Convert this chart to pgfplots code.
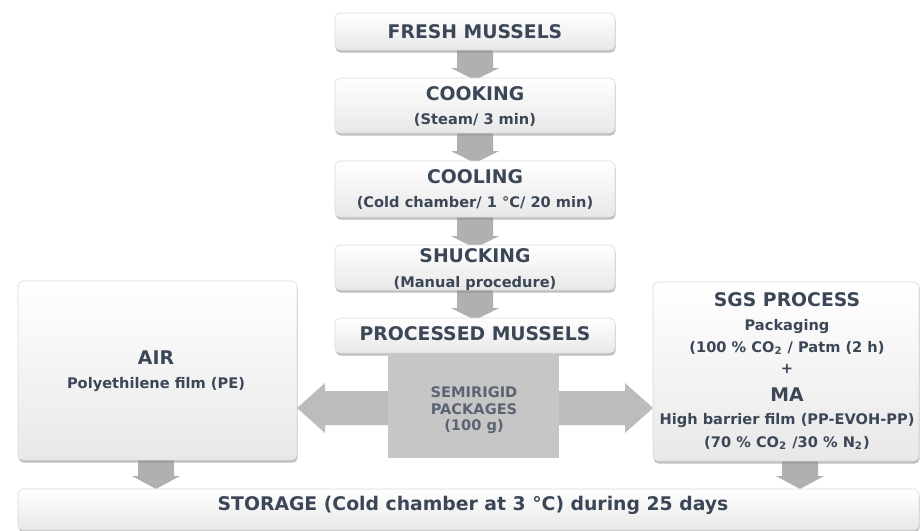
\documentclass[border=0pt]{standalone}
\usepackage{pgfplots}
\pgfplotsset{compat=1.18}
\usepackage{fontspec}
\setmainfont{DejaVu Sans}
\usetikzlibrary{shadows}
\definecolor{txt}{HTML}{3B4656}
\definecolor{arr}{HTML}{B0B0B0}
\definecolor{semi}{HTML}{C6C6C6}
\definecolor{semitxt}{HTML}{5C6474}
\newcommand{\hd}{\fontsize{9.4}{11}\selectfont\bfseries}
\newcommand{\sm}{\fontsize{7.3}{8.5}\selectfont\bfseries}
\begin{document}
\begin{tikzpicture}
\begin{axis}[width=461pt,height=260.5pt,scale only axis,
  xmin=0,xmax=922,ymin=0,ymax=521,y dir=reverse,hide axis,clip=false]
\fill[white] (0,0) rectangle (922,521);
\tikzset{box/.style={rounded corners=2.5pt,top color=white,bottom color=black!9,draw=black!14,line width=0.3pt,
   drop shadow={shadow xshift=0.3pt,shadow yshift=-1.3pt,fill=black!45,opacity=0.55}},
   t/.style={text=txt,inner sep=0pt,anchor=center}}
% down arrows in the central column
\fill[arr] (457,50) -- (493,50) -- (493,68) -- (499,68) -- (475,80) -- (451,68) -- (457,68) -- cycle;
\fill[arr] (457,133) -- (493,133) -- (493,151) -- (499,151) -- (475,163) -- (451,151) -- (457,151) -- cycle;
\fill[arr] (457,217) -- (493,217) -- (493,236) -- (499,236) -- (475,248) -- (451,236) -- (457,236) -- cycle;
\fill[arr] (457,290) -- (493,290) -- (493,308) -- (499,308) -- (475,320) -- (451,308) -- (457,308) -- cycle;
% down arrows to storage
\fill[arr] (138,460) -- (174,460) -- (174,476) -- (180,476) -- (156,489) -- (132,476) -- (138,476) -- cycle;
\fill[arr] (782,460) -- (818,460) -- (818,476) -- (824,476) -- (800,489) -- (776,476) -- (782,476) -- cycle;
% double arrow
\fill[arr!85] (297,408) -- (325,383) -- (325,391) -- (625,391) -- (625,383) -- (653,408) -- (625,433) -- (625,425) -- (325,425) -- (325,433) -- cycle;
% boxes
\draw[box] (335,13) rectangle (615,50);
\draw[box] (335,78) rectangle (615,133);
\draw[box] (335,161) rectangle (615,217);
\draw[box] (335,245) rectangle (615,290);
\draw[box] (335,318) rectangle (615,353);
\draw[box] (18,281) rectangle (297,460);
\draw[box] (653,282) rectangle (919,461);
\draw[box] (18,489) rectangle (919,530);
\fill[semi] (388,354) rectangle (559,458);
% texts
\node[t] at (475,32) {\hd FRESH MUSSELS};
\node[t] at (475,94) {\hd COOKING};
\node[t] at (475,120) {\sm (Steam/ 3 min)};
\node[t] at (475,177) {\hd COOLING};
\node[t] at (475,203) {\sm (Cold chamber/ 1 °C/ 20 min)};
\node[t] at (475,256) {\hd SHUCKING};
\node[t] at (475,283) {\sm (Manual procedure)};
\node[t] at (475,334) {\hd PROCESSED MUSSELS};
\node[t,text=semitxt] at (474,392) {\sm SEMIRIGID};
\node[t,text=semitxt] at (474,409) {\sm PACKAGES};
\node[t,text=semitxt] at (474,427) {\sm (100 g)};
\node[t] at (156,358) {\hd AIR};
\node[t] at (156,385) {\sm Polyethilene film (PE)};
\node[t] at (787,300) {\hd SGS PROCESS};
\node[t] at (787,327) {\sm Packaging};
\node[t] at (787,348) {\sm (100 \% CO\textsubscript{2} / Patm (2 h)};
\node[t] at (787,369) {\sm +};
\node[t] at (787,395) {\hd MA};
\node[t] at (787,421) {\sm High barrier film (PP-EVOH-PP)};
\node[t] at (787,443) {\sm (70 \% CO\textsubscript{2} /30 \% N\textsubscript{2})};
\node[t] at (473,505) {\hd STORAGE (Cold chamber at 3 °C) during 25 days};
\end{axis}
\end{tikzpicture}
\end{document}
